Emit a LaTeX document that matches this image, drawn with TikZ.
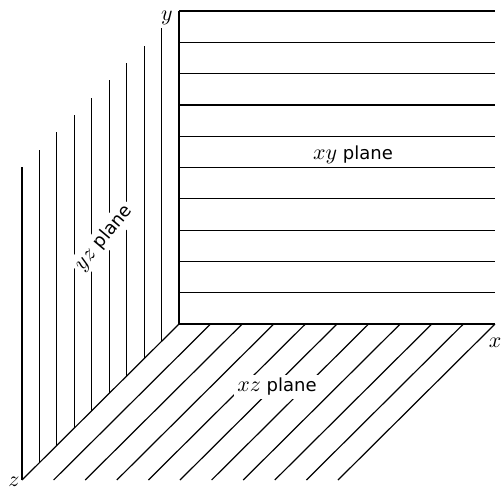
\documentclass[tikz,border=0pt]{standalone}
\usepackage{fontspec}
\setsansfont{DejaVu Sans}
\usetikzlibrary{calc}

\newcommand{\planevar}[1]{{\fontsize{11}{12}\selectfont$#1$}}

\begin{document}
\begin{tikzpicture}[x=0.5pt, y=0.5pt, line width=0.6pt,
    plane label/.style={inner sep=1.5pt, font=\fontsize{9}{10}\selectfont\sffamily},
    cut label/.style={plane label, fill=white},
    axis label/.style={font=\fontsize{11}{12}\selectfont}]
    \useasboundingbox (-179,-170) rectangle (323,324);

    % Corners of the three planes
    \coordinate (O) at (0,0);
    \coordinate (X) at (316,0);
    \coordinate (Y) at (0,313);
    \coordinate (Z) at (-157,-156);

    % xy plane: horizontal lines
    \foreach \k in {0,...,10}
        \draw ($(O)!\k/10!(Y)$) -- ++(316,0);

    % yz plane: vertical lines
    \foreach \k in {0,...,9}
        \draw ($(O)!\k/9!(Z)$) -- ++(0,313);

    % xz plane: slanted lines
    \foreach \k in {0,...,10}
        \draw ($(O)!\k/10!(X)$) -- ++(-157,-156);

    % Plane labels (white box cuts the lines)
    \node[plane label] (xy) at (174,169) {\planevar{xy} plane};
    \node[cut label, rotate=50] (yz) at (-75,86) {\planevar{yz} plane};
    \node[cut label] (xz) at (98,-63) {\planevar{xz} plane};

    % Axis labels
    \node[axis label] (ylab) at (-12,306) {$y$};
    \node[axis label] (xlab) at (316,-19) {$x$};
    \node[axis label] (zlab) at (-165,-158) {$z$};
\end{tikzpicture}
\end{document}
